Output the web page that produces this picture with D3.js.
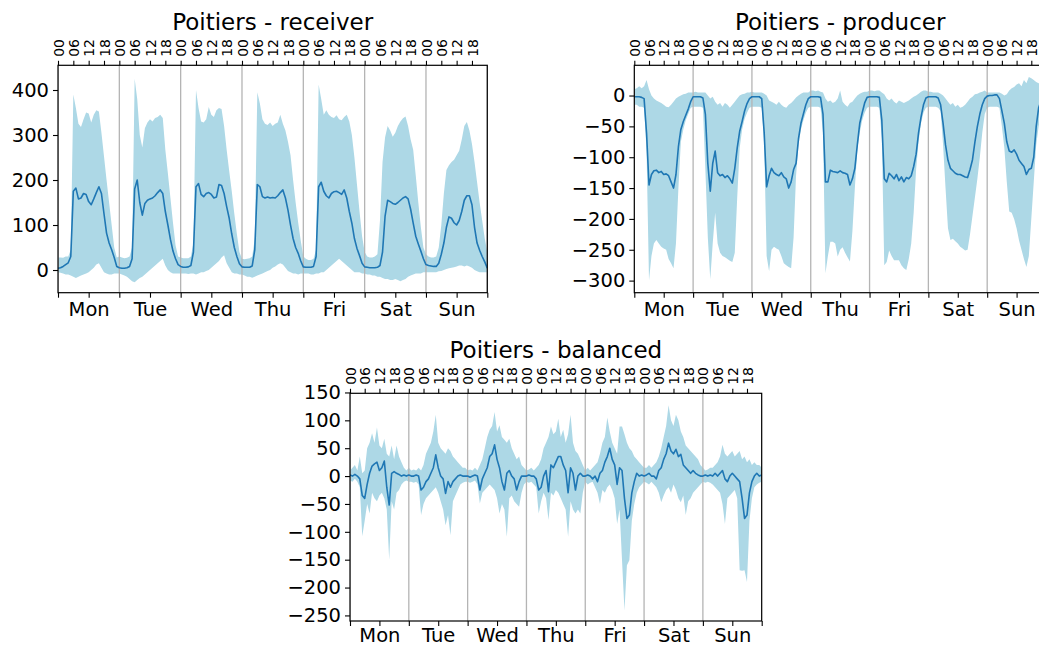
<!DOCTYPE html>
<html><head><meta charset="utf-8">
<script src="https://cdn.jsdelivr.net/npm/d3@7"></script>
<style>
body{margin:0;background:#fff}
svg text{font-family:"DejaVu Sans",sans-serif;fill:#000}
</style></head><body>
<svg id="c" width="1039" height="647"></svg>
<script>
const days = ["Mon","Tue","Wed","Thu","Fri","Sat","Sun"];
const hourLabels = ["00","06","12","18"];

const receiverMean = [
4, 5, 8, 12, 16, 30, 175, 182, 158, 160, 170, 168, 152, 145, 158, 172, 185, 170, 125, 82, 60, 45, 28, 8,
5, 4, 4, 5, 8, 25, 180, 200, 150, 122, 148, 155, 158, 160, 165, 172, 178, 170, 130, 100, 68, 42, 25, 12,
8, 6, 6, 7, 10, 40, 185, 192, 168, 163, 170, 172, 168, 160, 162, 190, 188, 170, 141, 115, 80, 50, 30, 14,
7, 6, 6, 6, 9, 45, 190, 185, 163, 160, 162, 160, 161, 160, 165, 172, 178, 160, 133, 100, 70, 50, 37, 20,
7, 6, 6, 6, 8, 30, 185, 195, 175, 165, 160, 170, 174, 175, 172, 168, 178, 160, 130, 104, 70, 48, 32, 15,
7, 6, 5, 5, 5, 6, 10, 40, 120, 155, 152, 148, 146, 150, 155, 160, 163, 158, 135, 104, 75, 58, 42, 25,
12, 10, 9, 8, 8, 15, 35, 60, 95, 118, 115, 105, 100, 110, 130, 155, 165, 165, 145, 95, 60, 44, 30, 18,
4];
const receiverMax = [
28, 28, 27, 30, 30, 45, 390, 360, 325, 318, 335, 350, 348, 328, 345, 355, 352, 305, 253, 200, 150, 100, 50, 28,
30, 28, 26, 27, 30, 50, 425, 380, 300, 272, 315, 328, 335, 330, 338, 340, 345, 338, 267, 215, 160, 105, 55, 30,
28, 26, 26, 26, 30, 60, 400, 360, 330, 328, 335, 362, 345, 340, 355, 360, 358, 320, 267, 220, 175, 125, 80, 40,
25, 24, 25, 26, 30, 70, 395, 370, 335, 325, 322, 328, 320, 325, 328, 345, 325, 310, 285, 255, 200, 150, 105, 65,
30, 25, 22, 22, 25, 45, 412, 380, 345, 355, 345, 340, 338, 344, 335, 333, 340, 345, 330, 300, 250, 190, 130, 75,
40, 30, 28, 28, 30, 35, 110, 240, 295, 320, 310, 296, 305, 320, 330, 337, 341, 320, 290, 267, 210, 150, 95, 50,
35, 30, 28, 28, 30, 50, 100, 170, 222, 233, 240, 245, 255, 265, 290, 320, 329, 310, 280, 240, 195, 150, 110, 70,
40];
const receiverMin = [
-5, -6, -8, -10, -10, -12, -15, -18, -15, -12, -10, -8, -5, 0, 5, 12, 15, 5, -5, -8, -10, -10, -8, -8,
-8, -10, -12, -15, -20, -25, -27, -22, -18, -15, -10, -5, 0, 5, 10, 15, 20, 25, 10, 0, -5, -8, -8, -8,
-8, -8, -8, -9, -8, -8, -10, -8, -5, -5, -2, 0, 5, 10, 15, 20, 28, 33, 15, 5, -5, -8, -8, -10,
-10, -12, -15, -15, -17, -15, -12, -10, -8, -5, -2, 0, 5, 8, 12, 15, 12, 5, -2, -5, -8, -8, -10, -8,
-8, -8, -8, -10, -10, -8, -8, -5, -5, 0, 5, 10, 15, 20, 25, 20, 15, 10, 5, 0, -5, -5, -5, -8,
-8, -10, -10, -12, -12, -15, -15, -18, -20, -20, -22, -22, -20, -22, -25, -22, -20, -15, -12, -10, -8, -8, -8, -5,
-5, -5, -5, -5, -5, -3, -2, 0, 2, 4, 5, 6, 8, 10, 10, 8, 10, 8, 5, 0, -3, -5, -5, -5,
-5];

const producerMean = [
-2, -2, -2, -3, -5, -61, -145, -128, -122, -121, -125, -123, -128, -127, -130, -140, -150, -128, -83, -55, -42, -32, -22, -10,
-2, -2, -2, -2, -4, -30, -110, -155, -110, -90, -125, -130, -128, -133, -130, -135, -142, -118, -85, -58, -42, -25, -13, -5,
-2, -2, -2, -2, -5, -60, -148, -130, -118, -125, -128, -130, -125, -132, -135, -150, -140, -120, -110, -70, -45, -30, -15, -5,
-2, -2, -2, -2, -3, -30, -140, -140, -121, -123, -124, -125, -122, -125, -126, -128, -145, -135, -118, -80, -45, -28, -12, -3,
-2, -2, -2, -2, -3, -40, -135, -140, -126, -130, -135, -128, -138, -132, -140, -133, -135, -130, -115, -95, -60, -35, -15, -4,
-2, -2, -2, -2, -4, -15, -45, -80, -105, -118, -122, -126, -128, -128, -130, -132, -133, -120, -104, -75, -50, -30, -15, -5,
-1, 0, 0, 1, 1, -5, -25, -45, -75, -90, -92, -88, -95, -105, -110, -115, -128, -120, -118, -100, -50, -20, -8, -3,
-1];
const producerMax = [
10, 12, 15, 12, 15, 25, 10, 0, -5, -8, -10, -12, -15, -18, -19, -15, -10, -5, -2, 0, 2, 3, 5, 5,
5, 6, 5, 5, 5, 5, 0, -5, -2, -10, -15, -12, -18, -12, -15, -20, -15, -10, -5, 0, 2, 3, 5, 5,
6, 5, 5, 5, 5, 3, 0, -8, -10, -12, -15, -10, -15, -18, -20, -15, -12, -8, -3, 0, 3, 5, 5, 5,
8, 8, 7, 8, 6, 5, -5, -10, -8, -12, -10, -5, 8, -10, -15, -18, -12, -10, -5, 0, 3, 5, 6, 6,
8, 8, 7, 8, 8, 5, 2, -5, -8, -5, -10, -13, -8, -10, -12, -10, -8, -5, -2, 0, 3, 6, 8, 8,
6, 6, 5, 5, 5, 3, 0, -5, -10, -15, -12, -18, -15, -20, -18, -15, -10, -5, -2, 2, 3, 5, 6, 8,
5, 5, 5, 5, 5, 5, 3, 0, 2, 8, 12, 14, 18, 20, 15, 25, 20, 30, 28, 25, 22, 20, 18, 15,
10];
const producerMin = [
-15, -15, -18, -18, -20, -90, -300, -260, -240, -234, -240, -245, -248, -250, -265, -272, -280, -240, -150, -75, -55, -40, -30, -20,
-18, -18, -18, -18, -20, -120, -230, -298, -240, -190, -240, -255, -260, -262, -265, -268, -270, -255, -165, -85, -55, -38, -28, -20,
-18, -18, -18, -18, -20, -80, -260, -285, -250, -245, -248, -250, -260, -272, -275, -278, -280, -230, -130, -80, -55, -40, -28, -20,
-18, -18, -18, -18, -20, -60, -288, -260, -237, -237, -240, -261, -250, -246, -255, -262, -269, -220, -150, -88, -60, -40, -28, -20,
-18, -18, -18, -18, -20, -70, -275, -270, -251, -260, -267, -267, -267, -275, -280, -283, -265, -240, -190, -120, -75, -45, -28, -20,
-18, -18, -18, -18, -20, -25, -80, -150, -215, -234, -232, -236, -240, -245, -248, -251, -250, -225, -195, -165, -135, -100, -60, -30,
-20, -18, -18, -18, -18, -20, -50, -85, -140, -188, -190, -200, -215, -235, -250, -265, -278, -260, -200, -140, -80, -50, -30, -20,
-15];

const balancedMean = [
2, 0, 3, 0, -5, -35, -40, -15, 5, 18, 22, 25, 10, 15, 27, -20, -52, 5, 8, 5, 3, 0, 2, 0,
2, 0, 0, 2, 0, -25, -20, -10, -5, 5, 15, 38, 15, 0, -5, -31, -10, -20, -10, -5, 0, 2, 0, 0,
0, -2, 0, 2, 0, -25, -5, 5, 15, 35, 40, 56, 30, 15, -10, -25, 5, 10, 0, -5, -25, -10, 0, 0,
0, 2, 0, 0, -5, -25, -20, 0, 10, -28, 20, 15, 25, 35, 35, 20, 10, -30, 15, 5, -25, 0, 5, 0,
0, 2, 0, -5, 0, -10, 5, 10, 25, 35, 50, 30, 20, -15, 15, 10, -40, -76, -70, -30, -10, 5, 0, 2,
0, 2, 5, 0, 0, -5, 10, 15, 30, 40, 59, 45, 40, 48, 35, 39, 20, 15, 10, 5, 10, 5, 2, 0,
0, 2, 0, 2, 0, 5, 0, 5, 10, -5, -10, 0, 5, 0, -5, -10, -40, -76, -70, -30, -10, 0, 5, 0,
2];
const balancedMax = [
10, 15, 20, 10, 35, 5, 10, 50, 60, 77, 60, 87, 55, 50, 67, 40, 35, 55, 30, 55, 35, 25, 15, 10,
15, 10, 12, 10, 15, 10, 20, 40, 50, 60, 80, 110, 60, 50, 45, 40, 50, 45, 35, 30, 25, 20, 15, 15,
10, 12, 10, 15, 10, 20, 30, 50, 70, 83, 90, 115, 80, 91, 70, 65, 60, 67, 50, 40, 30, 35, 20, 15,
10, 12, 15, 10, 15, 20, 30, 50, 60, 70, 89, 75, 80, 103, 70, 83, 60, 75, 110, 60, 45, 40, 30, 20,
10, 15, 10, 15, 20, 25, 40, 60, 70, 105, 80, 60, 50, 40, 89, 89, 75, 60, 50, 45, 35, 30, 25, 20,
15, 15, 20, 15, 20, 25, 35, 50, 70, 90, 127, 100, 90, 110, 100, 80, 70, 55, 50, 45, 40, 35, 30, 20,
15, 10, 12, 15, 15, 20, 25, 35, 56, 40, 35, 40, 45, 35, 40, 45, 30, 35, 25, 30, 20, 25, 20, 20,
15];
const balancedMin = [
-8, -10, -5, -10, -20, -108, -80, -50, -67, -30, -40, -45, -35, -30, -40, -60, -150, -45, -60, -30, -25, -15, -10, -8,
-10, -10, -12, -10, -15, -70, -50, -40, -35, -30, -25, -20, -30, -45, -60, -88, -70, -106, -45, -35, -25, -15, -12, -10,
-10, -12, -10, -8, -15, -49, -30, -25, -20, -15, -20, -25, -40, -67, -50, -60, -109, -40, -35, -45, -50, -55, -30, -15,
-10, -12, -10, -15, -20, -67, -45, -30, -40, -79, -30, -35, -25, -30, -40, -50, -60, -109, -45, -60, -67, -60, -67, -30,
-10, -15, -12, -10, -20, -30, -50, -25, -30, -20, -15, -25, -40, -86, -60, -151, -241, -160, -151, -80, -50, -30, -20, -15,
-10, -12, -15, -10, -15, -20, -30, -47, -35, -25, -20, -30, -15, -25, -40, -47, -35, -70, -45, -40, -30, -25, -20, -15,
-10, -12, -10, -12, -15, -20, -25, -30, -50, -86, -40, -35, -30, -25, -40, -169, -170, -169, -190, -80, -40, -20, -15, -12,
-10];

const receiverTicks = [0, 100, 200, 300, 400];
const producerTicks = [0, -50, -100, -150, -200, -250, -300];
const balancedTicks = [150, 100, 50, 0, -50, -100, -150, -200, -250];

const panels = [
  {title:"Poitiers - receiver", mean:receiverMean, lo:receiverMin, hi:receiverMax, ticks:receiverTicks,
   left:58, right:487.3, top:65.3, bottom:292.7, domain:[-50.4, 454.9], dayPad:4.5},
  {title:"Poitiers - producer", mean:producerMean, lo:producerMin, hi:producerMax, ticks:producerTicks,
   left:634.3, right:1046, top:65.3, bottom:292.7, domain:[-319.6, 49], dayPad:4.5},
  {title:"Poitiers - balanced", mean:balancedMean, lo:balancedMin, hi:balancedMax, ticks:balancedTicks,
   left:350, right:761.7, top:393.3, bottom:621, domain:[-260, 148.5], dayPad:2}
];

const svg = d3.select("#c");
const TICK_FS = "19.5px", TITLE_FS = "23px", TOP_FS = "14px";

panels.forEach(p => {
  const g = svg.append("g");
  const x = d3.scaleLinear().domain([0, 168]).range([p.left, p.right]);
  const y = d3.scaleLinear().domain(p.domain).range([p.bottom, p.top]);
  const idx = d3.range(p.mean.length);

  const clipId = "clip" + Math.round(p.left);
  g.append("clipPath").attr("id", clipId).append("rect")
    .attr("x", p.left).attr("y", p.top).attr("width", p.right - p.left).attr("height", p.bottom - p.top);

  const plot = g.append("g").attr("clip-path", `url(#${clipId})`);
  plot.append("path").datum(idx)
    .attr("d", d3.area().x(i => x(i)).y0(i => y(p.lo[i])).y1(i => y(p.hi[i])))
    .attr("fill", "#add8e6");

  plot.selectAll("line.day").data(d3.range(0, 8)).enter().append("line")
    .attr("x1", d => x(d * 24)).attr("x2", d => x(d * 24))
    .attr("y1", p.top).attr("y2", p.bottom)
    .attr("stroke", "#b4b4b4").attr("stroke-width", 1.3);

  plot.append("path").datum(idx)
    .attr("d", d3.line().x(i => x(i)).y(i => y(p.mean[i])))
    .attr("fill", "none").attr("stroke", "#1f77b4").attr("stroke-width", 1.6)
    .attr("stroke-linejoin", "round");

  g.append("rect").attr("x", p.left).attr("y", p.top)
    .attr("width", p.right - p.left).attr("height", p.bottom - p.top)
    .attr("fill", "none").attr("stroke", "#000").attr("stroke-width", 1.2);

  const ax = g.append("g").attr("transform", `translate(${p.left},0)`)
    .call(d3.axisLeft(y).tickValues(p.ticks).tickSize(5).tickPadding(4).tickFormat(d3.format("d")));
  const bx1 = g.append("g").attr("transform", `translate(0,${p.bottom})`)
    .call(d3.axisBottom(x).tickValues(d3.range(0, 169, 24)).tickSize(5).tickFormat(""));
  const bx2 = g.append("g").attr("transform", `translate(0,${p.bottom})`)
    .call(d3.axisBottom(x).tickValues(d3.range(12, 168, 24)).tickSize(5).tickPadding(p.dayPad)
      .tickFormat((d) => days[(d - 12) / 24]));
  const tx = g.append("g").attr("transform", `translate(0,${p.top})`)
    .call(d3.axisTop(x).tickValues(d3.range(0, 168, 6)).tickSize(4.5)
      .tickFormat(d => hourLabels[(d / 6) % 4]));
  tx.selectAll("text").attr("transform", "rotate(-90)")
    .attr("x", 8.5).attr("y", 0).attr("dy", "0.36em").attr("text-anchor", "start")
    .style("font-size", TOP_FS);

  [ax, bx1, bx2, tx].forEach(a => {
    a.select(".domain").remove();
    a.selectAll("line").attr("stroke", "#000").attr("stroke-width", 1.1);
    a.attr("font-family", null).attr("font-size", null);
  });
  [ax, bx2].forEach(a => a.selectAll("text").style("font-size", TICK_FS));

  g.append("text").attr("x", (p.left + p.right) / 2).attr("y", p.top - 35.3)
    .attr("text-anchor", "middle").style("font-size", TITLE_FS).text(p.title);
});
</script>
</body></html>
